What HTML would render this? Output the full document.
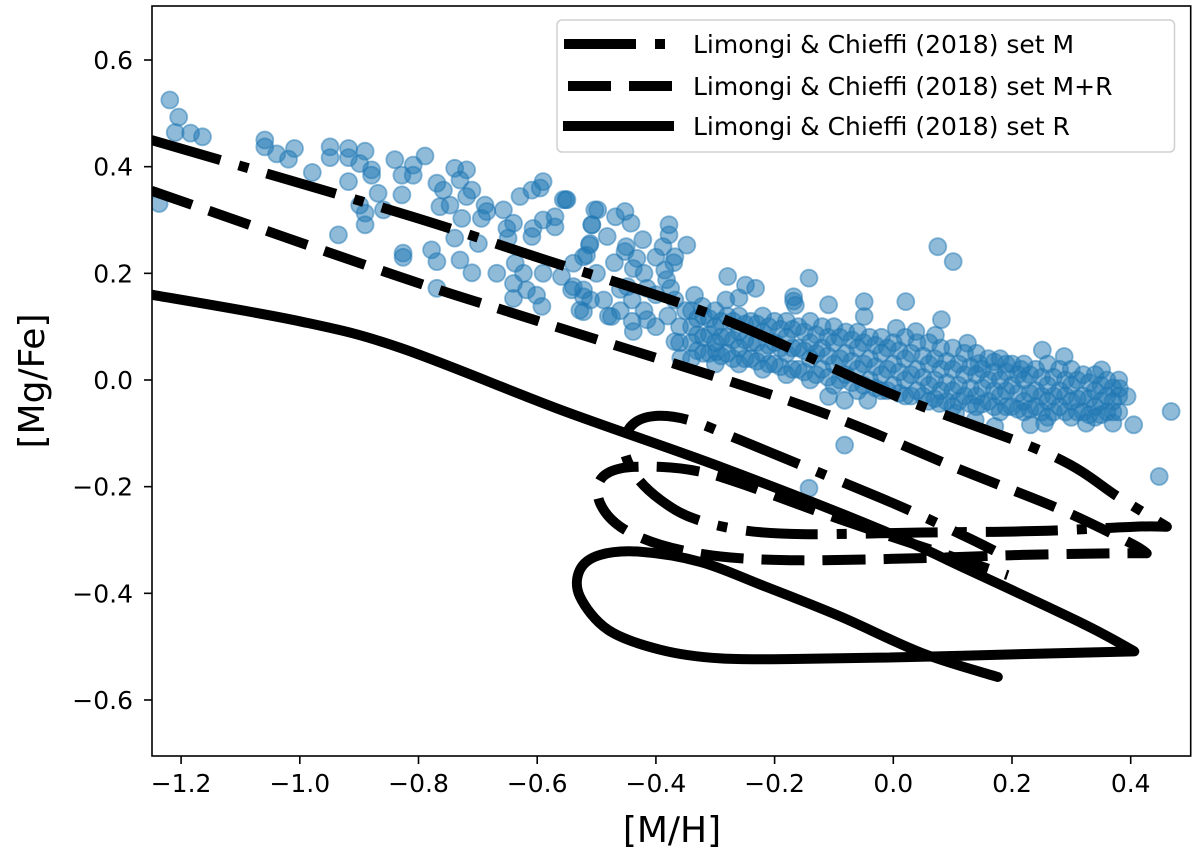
<!DOCTYPE html>
<html><head><meta charset="utf-8">
<style>
html,body{margin:0;padding:0;background:#fff;}
svg{display:block;font-family:"DejaVu Sans","Liberation Sans",sans-serif;}
</style></head>
<body>
<svg id="chart" width="1200" height="863" viewBox="0 0 1200 863" xmlns="http://www.w3.org/2000/svg">
<rect x="0" y="0" width="1200" height="863" fill="#fff"/>
<g id="scatter"></g>
<g id="lines"></g>
<rect x="152" y="6" width="1038.7" height="750" fill="none" stroke="#000" stroke-width="1.6"/>
<g id="xticks"></g>
<g id="yticks"></g>
<text x="672" y="842" font-size="36" text-anchor="middle">[M/H]</text>
<text x="0" y="0" font-size="36" text-anchor="middle" transform="translate(44,381) rotate(-90)">[Mg/Fe]</text>
<g>
<rect x="557" y="20" width="617.5" height="132" rx="5" fill="#fff" fill-opacity="0.8" stroke="#d0d0d0" stroke-width="1.5"/>
<line x1="564" y1="44" x2="674" y2="44" stroke="#000" stroke-width="10" stroke-dasharray="72 19 10 19"/>
<text x="693" y="53" font-size="25">Limongi &amp; Chieffi (2018) set M</text>
<line x1="568" y1="86" x2="674" y2="86" stroke="#000" stroke-width="10" stroke-dasharray="43 18"/>
<text x="693" y="95" font-size="25">Limongi &amp; Chieffi (2018) set M+R</text>
<line x1="563" y1="126" x2="674" y2="126" stroke="#000" stroke-width="10"/>
<text x="693" y="135" font-size="25">Limongi &amp; Chieffi (2018) set R</text>
</g>
</svg>
<script>
const xTicks = [-1.2,-1.0,-0.8,-0.6,-0.4,-0.2,0.0,0.2,0.4];
const xTickLabels = ["\u22121.2","\u22121.0","\u22120.8","\u22120.6","\u22120.4","\u22120.2","0.0","0.2","0.4"];
const yTicks = [0.6,0.4,0.2,0.0,-0.2,-0.4,-0.6];
const yTickLabels = ["0.6","0.4","0.2","0.0","\u22120.2","\u22120.4","\u22120.6"];

const setM_x = [-1.25,-0.83,-0.6,-0.3,0.0,0.264,0.38,0.461,0.406,0.25,0.048,-0.155,-0.257,-0.338,-0.392,-0.433,-0.453,-0.443,-0.406,-0.345,-0.257,-0.122,0.014,0.115,0.17];
const setM_y = [0.45,0.313,0.23,0.12,-0.028,-0.14,-0.22,-0.275,-0.275,-0.283,-0.286,-0.289,-0.281,-0.259,-0.225,-0.181,-0.131,-0.088,-0.068,-0.075,-0.113,-0.175,-0.238,-0.29,-0.32];
const setMR_x = [-1.25,-0.83,-0.6,-0.155,0.115,0.284,0.4,0.427,0.372,0.217,0.048,-0.155,-0.291,-0.392,-0.46,-0.494,-0.494,-0.46,-0.392,-0.325,-0.257,-0.088,0.082,0.193];
const setMR_y = [0.355,0.193,0.111,-0.047,-0.169,-0.244,-0.306,-0.325,-0.325,-0.328,-0.334,-0.338,-0.331,-0.309,-0.275,-0.231,-0.188,-0.166,-0.163,-0.172,-0.194,-0.262,-0.325,-0.366];
const setR_x = [-1.25,-1.0,-0.83,-0.56,-0.291,-0.02,0.115,0.318,0.406,0.25,0.048,-0.155,-0.291,-0.392,-0.48,-0.528,-0.528,-0.494,-0.426,-0.325,-0.223,-0.088,0.048,0.176];
const setR_y = [0.16,0.11,0.06,-0.056,-0.163,-0.281,-0.35,-0.456,-0.509,-0.513,-0.519,-0.523,-0.522,-0.506,-0.469,-0.406,-0.356,-0.328,-0.322,-0.341,-0.384,-0.444,-0.512,-0.557];

const starsX = [-1.219,-1.204,-1.21,-1.184,-1.164,-1.237,-1.059,-1.059,-1.039,-1.019,-1.009,-0.979,-0.949,-0.949,-0.918,-0.918,-0.89,-0.899,-0.879,-0.879,-0.918,-0.868,-0.899,-0.89,-0.89,-0.859,-0.935,-0.84,-0.809,-0.789,-0.828,-0.809,-0.828,-0.826,-0.826,-0.778,-0.769,-0.769,-0.769,-0.758,-0.764,-0.747,-0.739,-0.719,-0.73,-0.71,-0.719,-0.727,-0.739,-0.73,-0.71,-0.688,-0.685,-0.694,-0.657,-0.651,-0.64,-0.649,-0.699,-0.629,-0.609,-0.59,-0.595,-0.607,-0.609,-0.59,-0.57,-0.57,-0.556,-0.55,-0.637,-0.668,-0.623,-0.59,-0.559,-0.64,-0.618,-0.601,-0.64,-0.592,-0.539,-0.522,-0.528,-0.51,-0.503,-0.508,-0.511,-0.517,-0.539,
-0.552,-0.498,-0.468,-0.452,-0.442,-0.508,-0.482,-0.422,-0.378,-0.378,-0.348,-0.388,-0.512,-0.522,-0.452,-0.432,-0.438,-0.368,-0.385,-0.382,-0.375,-0.542,-0.522,-0.488,-0.448,-0.415,-0.522,-0.475,-0.438,-0.415,-0.368,-0.335,-0.368,-0.358,-0.298,-0.322,-0.279,-0.249,-0.232,-0.282,-0.26,-0.142,-0.168,-0.168,-0.165,-0.109,-0.049,-0.049,0.021,0.075,0.101,0.081,0.005,0.038,0.071,0.125,0.251,0.288,0.351,0.381,0.394,0.405,0.468,0.448,-0.082,-0.142,0.171,0.231,0.144,0.17,0.19,0.215,-0.109,-0.082,-0.043,0.078,0.105,0.138,0.325,0.37,0.255,
-0.34,-0.34,-0.34,-0.34,-0.32,-0.32,-0.32,-0.30,-0.30,-0.30,-0.30,-0.28,-0.28,-0.28,-0.26,-0.26,-0.26,-0.26,-0.24,-0.24,-0.24,-0.22,-0.22,-0.22,-0.22,-0.20,-0.20,-0.20,-0.18,-0.18,-0.18,-0.18,-0.16,-0.16,-0.16,-0.14,-0.14,-0.14,-0.14,-0.12,-0.12,-0.12,-0.10,-0.10,-0.10,-0.10,-0.08,-0.08,-0.08,-0.06,-0.06,-0.06,-0.06,-0.04,-0.04,-0.04,-0.02,-0.02,-0.02,-0.02,0.00,0.00,0.00,0.02,0.02,0.02,0.02,0.04,0.04,0.04,0.06,0.06,0.06,0.06,0.08,0.08,0.08,0.10,0.10,0.10,0.10,0.12,0.12,0.12,0.14,0.14,0.14,0.14,0.16,0.16,0.16,0.18,0.18,0.18,0.18,0.20,0.20,0.20,0.22,0.22,0.22,0.22,0.24,0.24,0.24,0.26,0.26,0.26,0.26,0.28,0.28,0.28,0.30,0.30,0.30,0.30,0.32,0.32,0.32,0.34,0.34,0.34,0.34,0.36,0.36,0.36,0.38,0.38,0.38];
const starsY = [0.525,0.493,0.464,0.463,0.456,0.331,0.45,0.437,0.424,0.414,0.434,0.389,0.437,0.417,0.434,0.417,0.429,0.406,0.394,0.384,0.372,0.35,0.328,0.313,0.291,0.319,0.272,0.413,0.403,0.42,0.384,0.384,0.347,0.238,0.23,0.244,0.222,0.172,0.369,0.356,0.325,0.328,0.397,0.394,0.375,0.356,0.344,0.303,0.266,0.225,0.201,0.328,0.316,0.303,0.319,0.284,0.294,0.266,0.256,0.344,0.356,0.372,0.36,0.284,0.269,0.3,0.287,0.306,0.338,0.338,0.219,0.2,0.2,0.2,0.194,0.181,0.169,0.159,0.153,0.138,0.175,0.169,0.131,0.15,0.319,0.291,0.256,0.234,0.219,
0.338,0.319,0.306,0.316,0.294,0.291,0.269,0.263,0.291,0.272,0.253,0.25,0.253,0.231,0.241,0.228,0.209,0.231,0.206,0.188,0.172,0.169,0.156,0.15,0.175,0.172,0.128,0.119,0.091,0.113,0.15,0.159,0.072,0.041,0.053,0.138,0.194,0.178,0.172,0.15,0.154,0.191,0.156,0.148,0.14,0.141,0.147,0.119,0.147,0.25,0.222,0.113,0.097,0.091,0.084,0.069,0.056,0.044,0.019,-0.016,-0.031,-0.084,-0.059,-0.181,-0.122,-0.203,-0.087,-0.084,0.031,0.034,0.03,0.02,-0.031,-0.038,-0.038,-0.044,-0.062,-0.075,-0.081,-0.081,-0.081,
0.13,0.10,0.07,0.04,0.12,0.08,0.05,0.13,0.10,0.07,0.03,0.12,0.08,0.05,0.12,0.09,0.06,0.03,0.11,0.07,0.04,0.12,0.09,0.05,0.02,0.11,0.07,0.03,0.11,0.08,0.05,0.01,0.10,0.06,0.02,0.11,0.07,0.04,0.00,0.10,0.06,0.02,0.10,0.07,0.03,-0.01,0.09,0.05,0.01,0.09,0.06,0.02,-0.02,0.08,0.04,0.00,0.08,0.05,0.01,-0.02,0.07,0.03,-0.01,0.08,0.04,0.00,-0.03,0.07,0.02,-0.02,0.07,0.03,-0.01,-0.04,0.06,0.02,-0.02,0.06,0.02,-0.02,-0.05,0.05,0.01,-0.03,0.05,0.01,-0.03,-0.05,0.04,0.00,-0.04,0.04,0.00,-0.03,-0.06,0.03,-0.01,-0.05,0.03,0.00,-0.04,-0.06,0.02,-0.02,-0.05,0.03,-0.01,-0.04,-0.07,0.02,-0.02,-0.05,0.02,-0.01,-0.04,-0.07,0.01,-0.03,-0.06,0.01,-0.02,-0.05,-0.07,0.00,-0.03,-0.06,0.00,-0.03,-0.06];

const fillX = [-0.33,-0.33,-0.33,-0.31,-0.31,-0.31,-0.29,-0.29,-0.29,-0.27,-0.27,-0.27,-0.25,-0.25,-0.25,-0.23,-0.23,-0.23,-0.21,-0.21,-0.21,-0.19,-0.19,-0.19,-0.17,-0.17,-0.17,-0.15,-0.15,-0.15,-0.13,-0.13,-0.13,-0.11,-0.11,-0.11,-0.09,-0.09,-0.09,-0.07,-0.07,-0.07,-0.05,-0.05,-0.05,-0.03,-0.03,-0.03,-0.01,-0.01,-0.01,0.01,0.01,0.01,0.03,0.03,0.03,0.05,0.05,0.05,0.07,0.07,0.07,0.09,0.09,0.09,0.11,0.11,0.11,0.13,0.13,0.13,0.15,0.15,0.15,0.17,0.17,0.17,0.19,0.19,0.19,0.21,0.21,0.21,0.23,0.23,0.23,0.25,0.25,0.25,0.27,0.27,0.27,0.29,0.29,0.29,0.31,0.31,0.31,0.33,0.33,0.33,0.35,0.35,0.35,0.37,0.37,0.37,
-0.46,-0.44,-0.42,-0.40,-0.38,-0.36,-0.46,-0.40,-0.36,-0.50,-0.47,-0.42,-0.45,-0.40,-0.37,-0.44,-0.48,-0.35];
const fillY = [0.115,0.085,0.055,0.115,0.085,0.05,0.11,0.08,0.045,0.11,0.075,0.04,0.105,0.075,0.04,0.105,0.07,0.035,0.10,0.065,0.03,0.095,0.06,0.025,0.095,0.06,0.02,0.09,0.055,0.015,0.085,0.05,0.01,0.08,0.045,0.005,0.08,0.04,0.0,0.075,0.035,-0.005,0.07,0.03,-0.01,0.065,0.025,-0.015,0.06,0.02,-0.02,0.055,0.015,-0.025,0.05,0.01,-0.03,0.045,0.005,-0.03,0.04,0.0,-0.035,0.035,-0.005,-0.04,0.03,-0.01,-0.04,0.025,-0.015,-0.045,0.02,-0.015,-0.045,0.015,-0.02,-0.05,0.015,-0.02,-0.05,0.01,-0.025,-0.055,0.01,-0.025,-0.055,0.005,-0.03,-0.06,0.005,-0.03,-0.06,0.0,-0.03,-0.06,0.0,-0.035,-0.06,-0.005,-0.035,-0.065,-0.01,-0.04,-0.065,-0.015,-0.04,-0.06,
0.13,0.11,0.13,0.10,0.12,0.10,0.17,0.16,0.07,0.20,0.22,0.20,0.25,0.23,0.22,0.15,0.12,0.13];

const X0=-1.2, PX0=181.1, PXPER=593.5;
const Y0=0.0, PY0=380, PYPER=533.3;
function sx(v){return PX0+(v-X0)*PXPER;}
function sy(v){return PY0-(v-Y0)*PYPER;}
const NS="http://www.w3.org/2000/svg";
function mk(tag,attrs,parent){const e=document.createElementNS(NS,tag);for(const k in attrs)e.setAttribute(k,attrs[k]);parent.appendChild(e);return e;}

const defs=mk('defs',{},document.getElementById('chart'));
const cp=mk('clipPath',{id:'clip'},defs);
mk('rect',{x:152,y:6,width:1038.7,height:750},cp);

const sc=document.getElementById('scatter');
sc.setAttribute('clip-path','url(#clip)');
function drawStars(xs,ys){
  for(let i=0;i<xs.length;i++){
    const c=mk('circle',{cx:sx(xs[i]).toFixed(1),cy:sy(ys[i]).toFixed(1),r:8.5,fill:'#1f77b4','fill-opacity':0.5,stroke:'#1f77b4','stroke-opacity':0.5,'stroke-width':1.8},sc);
    
    
  }
}
drawStars(starsX,starsY);
drawStars(fillX,fillY);

const lg=document.getElementById('lines');
lg.setAttribute('clip-path','url(#clip)');
function isCorner(P,i){
  if(i<=0||i>=P.length-1)return true;
  const a=[P[i][0]-P[i-1][0],P[i][1]-P[i-1][1]],b=[P[i+1][0]-P[i][0],P[i+1][1]-P[i][1]];
  const c=(a[0]*b[0]+a[1]*b[1])/(Math.hypot(a[0],a[1])*Math.hypot(b[0],b[1]));
  return c<-0.3;
}
function drawLine(xs,ys,dash,name){
  const P=xs.map((v,i)=>[sx(v),sy(ys[i])]);
  let d='M'+P[0][0].toFixed(1)+','+P[0][1].toFixed(1);
  for(let i=0;i<P.length-1;i++){
    const p1=P[i],p2=P[i+1];
    const p0=isCorner(P,i)?p1:P[i-1];
    const p3=isCorner(P,i+1)?p2:P[i+2];
    const c1=[p1[0]+(p2[0]-p0[0])/6,p1[1]+(p2[1]-p0[1])/6];
    const c2=[p2[0]-(p3[0]-p1[0])/6,p2[1]-(p3[1]-p1[1])/6];
    d+='C'+c1[0].toFixed(1)+','+c1[1].toFixed(1)+' '+c2[0].toFixed(1)+','+c2[1].toFixed(1)+' '+p2[0].toFixed(1)+','+p2[1].toFixed(1);
  }
  const p=mk('path',{d:d,fill:'none',stroke:'#000','stroke-width':10,'stroke-linejoin':'round','stroke-linecap':dash?'butt':'round'},lg);
  if(dash)p.setAttribute('stroke-dasharray',dash);
  
  
}
drawLine(setM_x,setM_y,'72 19 10 19','line-set-m');
drawLine(setMR_x,setMR_y,'43 18','line-set-m-r');
drawLine(setR_x,setR_y,null,'line-set-r');

const xt=document.getElementById('xticks');
xTicks.forEach((v,i)=>{
  const x=sx(v);
  const l=mk('line',{x1:x,y1:756,x2:x,y2:764,stroke:'#000','stroke-width':1.6},xt);
  
  
  const t=mk('text',{x:x,y:792,'font-size':25,'text-anchor':'middle'},xt);
  t.textContent=xTickLabels[i];
  
  
});
const yt=document.getElementById('yticks');
yTicks.forEach((v,i)=>{
  const y=sy(v);
  const l=mk('line',{x1:144,y1:y,x2:152,y2:y,stroke:'#000','stroke-width':1.6},yt);
  
  
  const t=mk('text',{x:133,y:y+9,'font-size':25,'text-anchor':'end'},yt);
  t.textContent=yTickLabels[i];
  
  
});
</script>
</body></html>
